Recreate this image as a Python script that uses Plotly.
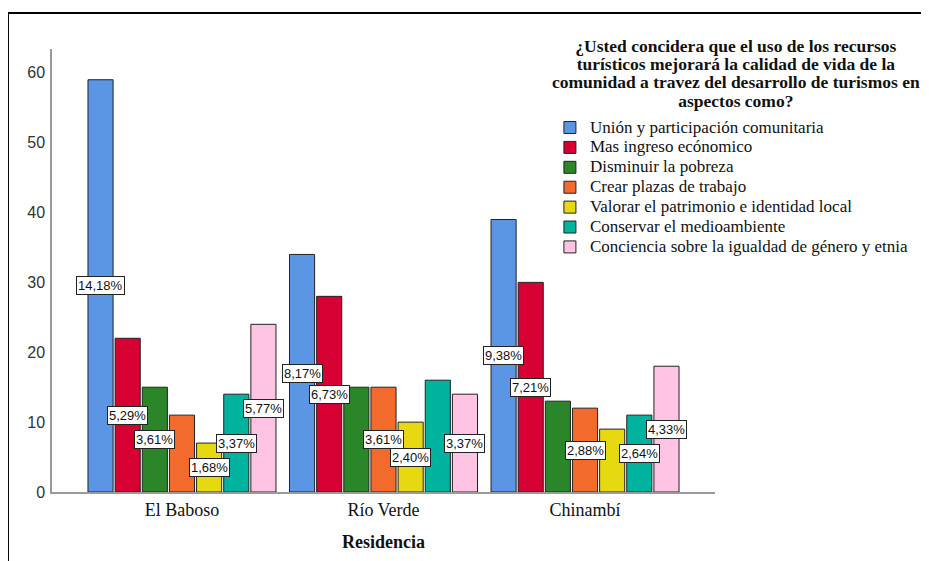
import plotly.graph_objects as go

# ---- data ----
categories = ["El Baboso", "Río Verde", "Chinambí"]
series_names = [
    "Unión y participación comunitaria",
    "Mas ingreso ecónomico",
    "Disminuir la pobreza",
    "Crear plazas de trabajo",
    "Valorar el patrimonio e identidad local",
    "Conservar el medioambiente",
    "Conciencia sobre la igualdad de género y etnia",
]
union_participacion = [59, 34, 39]
mas_ingreso = [22, 28, 30]
disminuir_pobreza = [15, 15, 13]
crear_plazas = [11, 15, 12]
valorar_patrimonio = [7, 10, 9]
conservar_medioambiente = [14, 16, 11]
conciencia_igualdad = [24, 14, 18]
series_values = [union_participacion, mas_ingreso, disminuir_pobreza, crear_plazas,
                 valorar_patrimonio, conservar_medioambiente, conciencia_igualdad]
# percentage labels visible in the original (others hidden by overlap)
label_shown = [
    [True, True, True],
    [True, True, True],
    [True, False, False],
    [False, True, True],
    [True, True, False],
    [True, False, True],
    [True, True, True],
]
y_ticks = [0, 10, 20, 30, 40, 50, 60]
title_lines = [
    "¿Usted concidera que el uso de los recursos",
    "turísticos mejorará la calidad de vida de la",
    "comunidad a travez del desarrollo de turismos en",
    "aspectos como?",
]
x_title = "Residencia"

colors = ["#5A96E4", "#D60032", "#2A8628", "#F36B2C", "#E6D912", "#00B39E", "#FFC3E3"]
SERIF = "Liberation Serif, Times New Roman, serif"
SANS = "Liberation Sans, Arial, sans-serif"

grand_total = sum(sum(v) for v in series_values)
n_series = len(series_names)
bargap = 0.057
slot = (1 - bargap) / n_series
xs = list(range(len(categories)))

fig = go.Figure()
annotations = []
for i, (name, vals) in enumerate(zip(series_names, series_values)):
    fig.add_trace(go.Bar(
        x=xs, y=vals, name=f'<span style="font-size:17px">{name}</span>',
        marker=dict(color=colors[i], line=dict(color="#222222", width=1)),
        hoverinfo="y",
    ))
    offset = (i - (n_series - 1) / 2) * slot
    for j, v in enumerate(vals):
        if label_shown[i][j]:
            pct = f"{v / grand_total * 100:.2f}%".replace(".", ",")
            annotations.append(dict(
                x=xs[j] + offset, y=v / 2, xref="x", yref="y", text=pct,
                showarrow=False, font=dict(family=SANS, size=13, color="#111"),
                bgcolor="white", bordercolor="#222", borderwidth=1, borderpad=1,
            ))

title_html = "<br>".join(f'<span style="font-size:17.5px"><b>{t}</b></span>' for t in title_lines)
annotations.append(dict(
    x=1.0317, y=0.944, xref="paper", yref="paper", text=title_html,
    showarrow=False, align="center", xanchor="center", yanchor="middle",
    font=dict(family=SERIF, size=14, color="#111"),
))

fig.update_layout(
    width=921, height=553,
    margin=dict(l=44, r=214, t=41, b=67),
    paper_bgcolor="white", plot_bgcolor="white",
    barmode="group", bargap=bargap, bargroupgap=0.075,
    showlegend=True,
    legend=dict(
        x=0.751, y=0.8565, xanchor="left", yanchor="top",
        font=dict(family=SERIF, size=13, color="#111"),
        bgcolor="rgba(0,0,0,0)", itemclick=False, itemdoubleclick=False,
    ),
    xaxis=dict(
        tickmode="array", tickvals=xs, ticktext=categories,
        range=[-0.645, 2.645], showline=True, linecolor="#9a9a9a", linewidth=1.5,
        showgrid=False, zeroline=False, ticks="",
        tickfont=dict(family=SERIF, size=18, color="#111"),
        ticklabelstandoff=1,
        title=dict(text=f"<b>{x_title}</b>", standoff=16,
                   font=dict(family=SERIF, size=18, color="#111")),
    ),
    yaxis=dict(
        range=[0, 63.4], tickmode="array", tickvals=y_ticks,
        showline=True, linecolor="#9a9a9a", linewidth=1.5,
        showgrid=False, zeroline=False, ticks="",
        tickfont=dict(family=SANS, size=16, color="#333"),
        ticklabelstandoff=2,
    ),
    annotations=annotations,
    shapes=[
        dict(type="line", xref="paper", yref="paper", x0=-0.0664, x1=1.4, y0=1.081, y1=1.081,
             line=dict(color="black", width=2)),
        dict(type="line", xref="paper", yref="paper", x0=-0.0664, x1=-0.0664, y0=1.081, y1=-0.2,
             line=dict(color="black", width=2)),
    ],
)

fig.write_html("out.html")
